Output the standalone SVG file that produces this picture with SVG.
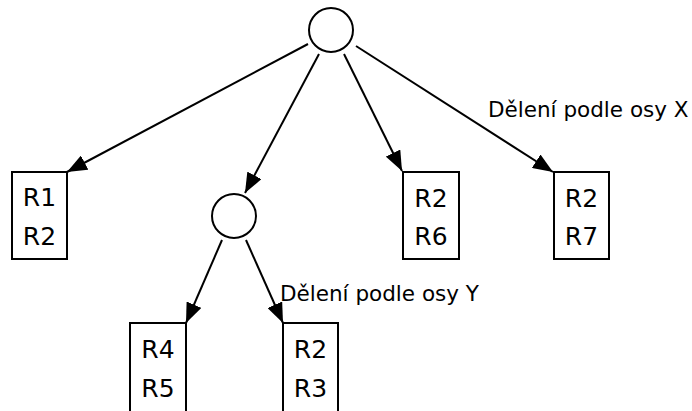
<svg xmlns="http://www.w3.org/2000/svg" width="692" height="411" viewBox="0 0 692 411">
<style>
.n{fill:#fff;stroke:#000;stroke-width:2}
.t{font-family:"DejaVu Sans",sans-serif;font-size:25px;text-anchor:middle;fill:#000}
.l{font-family:"DejaVu Sans",sans-serif;font-size:21.5px;fill:#000}
.e{stroke:#000;stroke-width:2;fill:none;marker-end:url(#a)}
</style>
<defs>
<marker id="a" markerWidth="10" markerHeight="8" refX="10" refY="4" orient="auto" markerUnits="strokeWidth">
<path d="M0,0 L10,4 L0,8 Z" fill="#000"/>
</marker>
</defs>
<rect width="692" height="411" fill="#fff"/>
<g id="edges">
<line class="e" x1="308" y1="44" x2="67" y2="172"/>
<line class="e" x1="319" y1="54" x2="245" y2="193"/>
<line class="e" x1="344" y1="54" x2="402" y2="171"/>
<line class="e" x1="356" y1="46" x2="553" y2="172"/>
<line class="e" x1="222" y1="240" x2="186" y2="323"/>
<line class="e" x1="246" y1="240" x2="283" y2="323"/>
</g>
<g id="root"><circle class="n" cx="331" cy="30" r="22"/></g>
<g id="split"><circle class="n" cx="234" cy="216" r="22"/></g>
<g id="leaf12"><rect class="n" x="12" y="172" width="55" height="87"/><text class="t" x="39.5" y="206">R1</text><text class="t" x="39.5" y="245">R2</text></g>
<g id="leaf26"><rect class="n" x="403" y="172" width="56" height="87"/><text class="t" x="431" y="207">R2</text><text class="t" x="431" y="245">R6</text></g>
<g id="leaf27"><rect class="n" x="554" y="172" width="55" height="87"/><text class="t" x="581.5" y="207">R2</text><text class="t" x="581.5" y="245">R7</text></g>
<g id="leaf45"><rect class="n" x="130" y="323" width="56" height="92"/><text class="t" x="158" y="358">R4</text><text class="t" x="158" y="397">R5</text></g>
<g id="leaf23"><rect class="n" x="283" y="323" width="55" height="92"/><text class="t" x="310.5" y="358">R2</text><text class="t" x="310.5" y="397">R3</text></g>
<g id="labels">
<text class="l" x="488" y="117">Dělení podle osy X</text>
<text class="l" x="280" y="301">Dělení podle osy Y</text>
</g>
</svg>
